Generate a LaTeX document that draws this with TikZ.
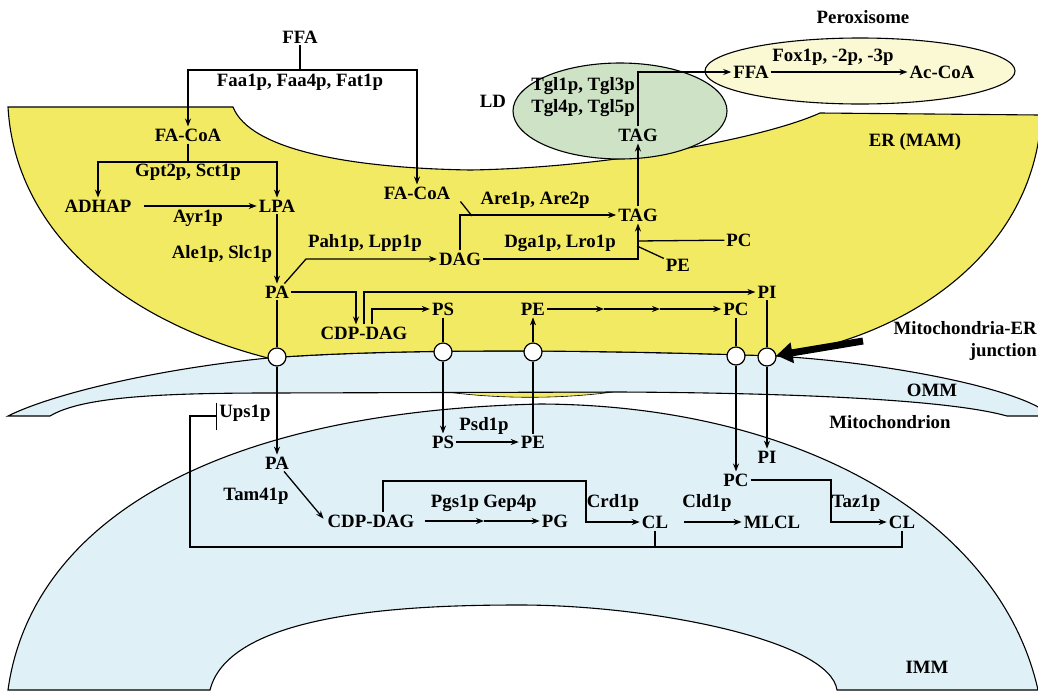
\documentclass[tikz,border=0pt]{standalone}
\usepackage{fontspec}
\setmainfont{Liberation Serif}
\usetikzlibrary{arrows.meta}
\definecolor{eryellow}{RGB}{243,234,99}
\definecolor{mitoblue}{RGB}{223,240,247}
\definecolor{ldgreen}{RGB}{206,226,197}
\definecolor{peroxyellow}{RGB}{251,248,212}
\tikzstyle{mol}=[inner sep=2pt]
\tikzstyle{enz}=[inner sep=0pt]
\tikzstyle{pore}=[circle,draw,fill=white,line width=1.2pt,minimum size=18pt,inner sep=0pt]
\tikzstyle{flow}=[->,line width=1.3pt]
\tikzstyle{link}=[line width=1.3pt]
\tikzstyle{membrane}=[line width=1.1pt]

\begin{document}
\begin{tikzpicture}[x=1pt,y=-1pt,font=\fontsize{18.8}{22}\selectfont\bfseries,>={Stealth[length=8pt,width=6pt]}]
        \useasboundingbox (0,0) rectangle (1038,694);
        % inner membrane, outer membrane, ER
        \draw[membrane,fill=mitoblue] (8,690) .. controls (30,530) and (200,412) .. (540,404) .. controls (800,405) and (1000,520) .. (1038,690) -- (837,690) .. controls (830,640) and (650,605) .. (520,605) .. controls (420,605) and (230,610) .. (210,690) -- cycle;
        \draw[line width=0.6pt,fill=eryellow] (447,392) .. controls (500,399) and (560,399) .. (613,392) -- cycle;
        \draw[membrane,fill=mitoblue] (8,416) .. controls (50,395) and (150,370) .. (268,358) .. controls (400,348) and (600,350) .. (775,356) .. controls (880,362) and (1000,385) .. (1040,408) -- (1040,416) -- (1007,416) .. controls (950,400) and (800,393) .. (620,392) -- (270,393) .. controls (150,393) and (80,398) .. (50,416) -- cycle;
        \draw[membrane,fill=eryellow] (8,107) -- (233,107) .. controls (250,150) and (350,168) .. (470,170) .. controls (600,168) and (760,140) .. (820,113) -- (1040,115) -- (1040,130) .. controls (1025,260) and (900,340) .. (775,356) .. controls (600,350) and (400,348) .. (268,358) .. controls (120,320) and (15,230) .. (8,107) -- cycle;
        \draw[membrane,fill=ldgreen] (620,111) ellipse [x radius=107pt, y radius=48pt];
        \draw[membrane,fill=peroxyellow] (860,71) ellipse [x radius=155pt, y radius=33pt];

        % compartment names
        \node (peroxT) at (863,17) {Peroxisome};
        \node (ldT) at (493,101) {LD};
        \node (erT) at (915,142) {ER (MAM)};
        \node[align=right,anchor=east,inner sep=0pt] (junctionT) at (1037,341) {Mitochondria-ER\\junction};
        \node (ommT) at (932,390) {OMM};
        \node (mitoT) at (890,422) {Mitochondrion};
        \node (immT) at (927,667) {IMM};

        % ER and lipid droplet
        \node[mol] (ffa) at (300,37) {FFA};
        \node[mol] (facoaA) at (188,135) {FA-CoA};
        \node[mol] (facoaB) at (417,193) {FA-CoA};
        \node[mol] (adhap) at (98,206) {ADHAP};
        \node[mol] (lpa) at (277,206) {LPA};
        \node[mol] (paER) at (277,292) {PA};
        \node[mol] (dag) at (460,259) {DAG};
        \node[mol] (tagER) at (638,215) {TAG};
        \node[mol] (pcT) at (739,240) {PC};
        \node[mol] (peT) at (678,265) {PE};
        \node[mol] (tagLD) at (638,135) {TAG};
        \node[mol] (ffaP) at (751,72) {FFA};
        \node[mol] (accoa) at (942,72) {Ac-CoA};
        \node[mol] (cdpER) at (364,333) {CDP-DAG};
        \node[mol] (psER) at (443,309) {PS};
        \node[mol] (peER) at (533,309) {PE};
        \node[mol] (pcER) at (736,309) {PC};
        \node[mol] (piER) at (767,292) {PI};

        \node[enz] (faaE) at (300,82) {Faa1p, Faa4p, Fat1p};
        \node[enz] (gptE) at (188,172) {Gpt2p, Sct1p};
        \node[enz] (ayrE) at (198,218) {Ayr1p};
        \node[enz] (aleE) at (222,254) {Ale1p, Slc1p};
        \node[enz] (pahE) at (365,243) {Pah1p, Lpp1p};
        \node[enz] (areE) at (535,200) {Are1p, Are2p};
        \node[enz] (dgaE) at (560,243) {Dga1p, Lro1p};
        \node[enz,align=center] (tglE) at (583,97) {Tgl1p, Tgl3p\\Tgl4p, Tgl5p};
        \node[enz] (foxE) at (833,57) {Fox1p, -2p, -3p};

        % junction pores
        \node[pore] (jPA) at (277,357) {};
        \node[pore] (jPS) at (443,352) {};
        \node[pore] (jPE) at (533,352) {};
        \node[pore] (jPC) at (736,356) {};
        \node[pore] (jPI) at (767,357) {};

        % mitochondrion
        \node[mol] (paM) at (277,463) {PA};
        \node[mol] (psM) at (443,442) {PS};
        \node[mol] (peM) at (533,442) {PE};
        \node[mol] (piM) at (767,457) {PI};
        \node[mol] (pcM) at (736,480) {PC};
        \node[mol] (cdpM) at (371,521) {CDP-DAG};
        \node[mol] (pg) at (555,521) {PG};
        \node[mol] (clA) at (655,522) {CL};
        \node[mol] (mlcl) at (772,522) {MLCL};
        \node[mol] (clB) at (902,522) {CL};

        \node[enz] (upsE) at (245,413) {Ups1p};
        \node[enz] (tamE) at (256,496) {Tam41p};
        \node[enz] (psdE) at (484,426) {Psd1p};
        \node[enz] (pgsE) at (455,503) {Pgs1p};
        \node[enz] (gepE) at (510,503) {Gep4p};
        \node[enz] (crdE) at (613,503) {Crd1p};
        \node[enz] (cldE) at (707,503) {Cld1p};
        \node[enz] (tazE) at (856,503) {Taz1p};

        \coordinate (ffasplit) at (300,70);
        \coordinate (gptsplit) at (188,162);
        \coordinate (pahbend) at (306,259);
        \coordinate (arejoin) at (472,216);
        \coordinate (pcjoin) at (637,241);
        \coordinate (pejoin) at (637,246);
        \coordinate (pcstepA) at (604,309);
        \coordinate (pcstepB) at (660,309);
        \coordinate (pgstep) at (484,521);
        \coordinate (crdbend) at (586,481);
        \coordinate (tazbend) at (831,480);
        \coordinate (botR) at (902,547);
        \coordinate (botL) at (190,547);
        \coordinate (upsT) at (217,416);
        \coordinate (jtail) at (863,341);

        \draw[link] (ffa) -- (ffasplit);
        \draw[flow] (ffasplit) -| (facoaA);
        \draw[flow] (ffasplit) -| (facoaB);
        \draw[link] (facoaA) -- (gptsplit);
        \draw[flow] (gptsplit) -| (adhap);
        \draw[flow] (gptsplit) -| (lpa);
        \draw[flow,shorten <=10pt] (adhap) -- (lpa);
        \draw[flow] (lpa) -- (paER);
        \draw[flow] (paER) -- (pahbend) -- (dag);
        \draw[flow] (dag) |- (tagER);
        \draw[link] ([xshift=8pt]facoaB.south east) -- (arejoin);
        \draw[flow] (dag) -| (tagER);
        \draw[link] (pcT) -- (pcjoin);
        \draw[link] (peT) -- (pejoin);
        \draw[flow] (tagER) -- (tagLD);
        \draw[flow] (tagLD) |- (ffaP);
        \draw[flow] (ffaP) -- (accoa);

        \draw[flow] (paER) -| ([xshift=-8pt]cdpER.north);
        \draw[flow] (cdpER.north) |- (piER);
        \draw[flow] ([xshift=8pt]cdpER.north) |- (psER);
        \draw[flow] (peER) -- (pcstepA);
        \draw[flow] (pcstepA) -- (pcstepB);
        \draw[flow] (pcstepB) -- (pcER);

        \draw[link] (paER) -- (jPA);
        \draw[flow] (jPA) -- (paM);
        \draw[link] (psER) -- (jPS);
        \draw[flow] (jPS) -- (psM);
        \draw[link] (peM) -- (jPE);
        \draw[flow] (jPE) -- (peER);
        \draw[link] (pcER) -- (jPC);
        \draw[flow] (jPC) -- (pcM);
        \draw[link] (piER) -- (jPI);
        \draw[flow] (jPI) -- (piM);
        \draw[line width=7pt,-{Triangle[length=16pt,width=20pt]}] (jtail) -- (jPI);

        \draw[flow] (psM) -- (peM);
        \draw[flow,shorten >=3pt] (paM) -- (cdpM.west);
        \draw[flow,shorten <=8pt] (cdpM) -- (pgstep);
        \draw[flow] (pgstep) -- (pg);
        \draw[flow] ([xshift=12pt]cdpM.north) |- (crdbend) |- (clA);
        \draw[flow,shorten <=14pt] (clA) -- (mlcl);
        \draw[flow] (pcM) -- (tazbend) |- (clB);
        \draw[link,-{Bar[width=27pt]}] (clB) -- (botR) -- (botL) |- (upsT);
        \draw[link] (clA) -- (clA |- botL);
    \end{tikzpicture}
\end{document}
